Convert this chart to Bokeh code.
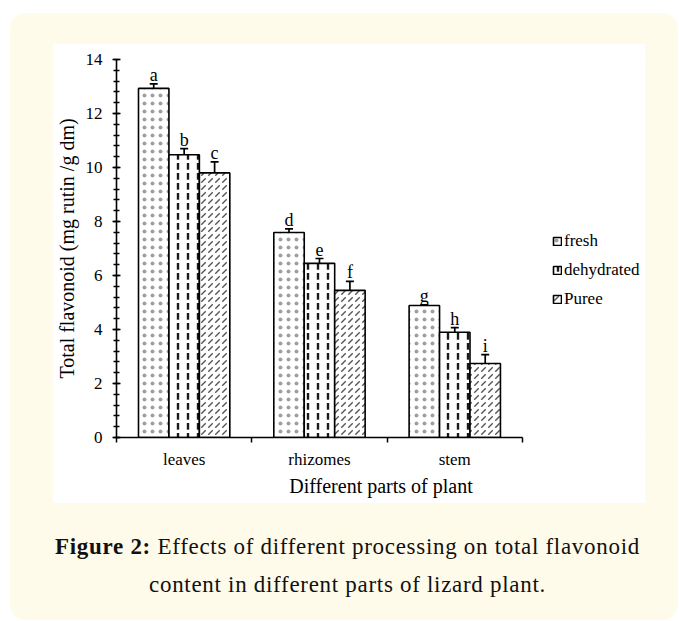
from bokeh.plotting import figure
from bokeh.models import (Range1d, FixedTicker, SingleIntervalTicker, CustomJSTickFormatter,
                          ColumnDataSource, Whisker, TeeHead, Legend, LegendItem, Div)
from bokeh.layouts import column
from bokeh.transform import dodge
from bokeh.core.properties import value
from bokeh.embed import file_html
from bokeh.resources import INLINE

# ---------------- data ----------------
categories = ["leaves", "rhizomes", "stem"]
treatments = ["fresh", "dehydrated", "Puree"]
fresh = [12.93, 7.59, 4.89]
dehydrated = [10.47, 6.45, 3.90]
puree = [9.80, 5.45, 2.74]
fresh_err = [0.17, 0.14, 0.02]
dehydrated_err = [0.23, 0.18, 0.17]
puree_err = [0.41, 0.33, 0.33]
fresh_letters = ["a", "d", "g"]
dehydrated_letters = ["b", "e", "h"]
puree_letters = ["c", "f", "i"]
y_ticks_max = 14
caption_bold = "Figure 2:"
caption_text = "Effects of different processing on total flavonoid<br>content in different parts of lizard plant."
x_axis_title = "Different parts of plant"
y_axis_title = "Total flavonoid (mg rutin /g dm)"

FONT = "Liberation Serif"
CREAM = "#fffbea"

series = [
    (treatments[0], fresh, fresh_err, fresh_letters, -0.225, ".", "#a0a0a0", 8, 0.8),
    (treatments[1], dehydrated, dehydrated_err, dehydrated_letters, 0.0, ":", "#1a1a1a", 10, 2.4),
    (treatments[2], puree, puree_err, puree_letters, 0.225, ",", "#555555", 7, 1.4),
]

# frame extends into the legend area; the x axis itself is bounded to the categories
W, H = 593, 460
BL, BR = 60, 0
axis_px = 409
x_end = len(categories) * (W - BL - BR) / axis_px

p = figure(width=W, height=H, x_range=Range1d(0, x_end), y_range=Range1d(0, y_ticks_max),
           output_backend="svg", toolbar_location=None,
           min_border_left=BL, min_border_right=BR, min_border_top=16, min_border_bottom=66,
           background_fill_color="white", border_fill_color="white", outline_line_color=None,
           margin=(30, 26, 0, 42))
p.xgrid.visible = False
p.ygrid.visible = False

renderers = []
for name, vals, errs, letters, off, pat, hcol, hscale, hw in series:
    src = ColumnDataSource(dict(
        x=[i + 0.5 for i in range(len(categories))],
        top=vals,
        upper=[v + e for v, e in zip(vals, errs)],
        lower=[v - e for v, e in zip(vals, errs)],
        letter=letters,
    ))
    r = p.vbar(x=dodge("x", off), top="top", width=0.225, source=src,
               fill_color="white", line_color="black", line_width=1.6,
               hatch_pattern=pat, hatch_color=hcol, hatch_scale=hscale, hatch_weight=hw)
    renderers.append((name, r))
    w = Whisker(source=src, base=dodge("x", off), upper="upper", lower="lower",
                line_color="black", line_width=1.7,
                upper_head=TeeHead(size=8, line_color="black", line_width=1.7),
                lower_head=TeeHead(size=8, line_color="black", line_width=1.7))
    p.add_layout(w)
    p.text(x=dodge("x", off), y="upper", text="letter", source=src,
           text_font=value(FONT), text_font_size="18px", text_color="black",
           text_align="center", text_baseline="alphabetic", y_offset=-9)

# x axis: labels at category centres, ticks at category boundaries
xa = p.xaxis[0]
xa.bounds = (0, len(categories))
xa.ticker = FixedTicker(ticks=[i + 0.5 for i in range(len(categories))],
                        minor_ticks=list(range(len(categories) + 1)))
xa.formatter = CustomJSTickFormatter(args=dict(cats=categories), code="return cats[Math.floor(tick)];")
xa.major_tick_in = 0
xa.major_tick_out = 0
xa.minor_tick_in = 0
xa.minor_tick_out = 5
xa.minor_tick_line_width = 1.5
xa.axis_line_width = 1.6
xa.major_label_text_font = FONT
xa.major_label_text_font_size = "17px"
xa.major_label_text_color = "black"
xa.major_label_standoff = 7
xa.axis_label = x_axis_title
xa.axis_label_text_font = FONT
xa.axis_label_text_font_size = "20px"
xa.axis_label_text_font_style = "normal"
xa.axis_label_text_color = "black"
xa.axis_label_standoff = 3

ya = p.yaxis[0]
ya.ticker = SingleIntervalTicker(interval=2, num_minor_ticks=5)
ya.major_tick_in = 4
ya.major_tick_out = 4
ya.minor_tick_in = 3
ya.minor_tick_out = 3
ya.major_tick_line_width = 1.5
ya.minor_tick_line_width = 1.5
ya.axis_line_width = 1.6
ya.major_label_text_font = FONT
ya.major_label_text_font_size = "17px"
ya.major_label_text_color = "black"
ya.major_label_standoff = 10
ya.axis_label = y_axis_title
ya.axis_label_text_font = FONT
ya.axis_label_text_font_size = "20px"
ya.axis_label_text_font_style = "normal"
ya.axis_label_text_color = "black"
ya.axis_label_standoff = 5

legend = Legend(items=[LegendItem(label=n, renderers=[r]) for n, r in renderers],
                location=(436, 128), orientation="vertical",
                label_text_font=FONT, label_text_font_size="17px", label_text_color="black",
                glyph_width=10, glyph_height=10, label_standoff=2, label_height=20,
                spacing=9, padding=0, margin=0, border_line_color=None,
                background_fill_alpha=0)
p.add_layout(legend, "center")

cap = Div(text=f"<b>{caption_bold}</b> {caption_text}", width=635,
          margin=(25, 0, 0, 20),
          styles={"font-family": FONT, "font-size": "23px", "line-height": "38px",
                  "text-align": "center", "color": "#111111", "letter-spacing": "0.7px"})

layout = column(p, cap, width=668, height=607, margin=(13, 0, 0, 10),
                styles={"background-color": CREAM, "border-radius": "16px"})

open("out.html", "w").write(file_html(layout, INLINE))
